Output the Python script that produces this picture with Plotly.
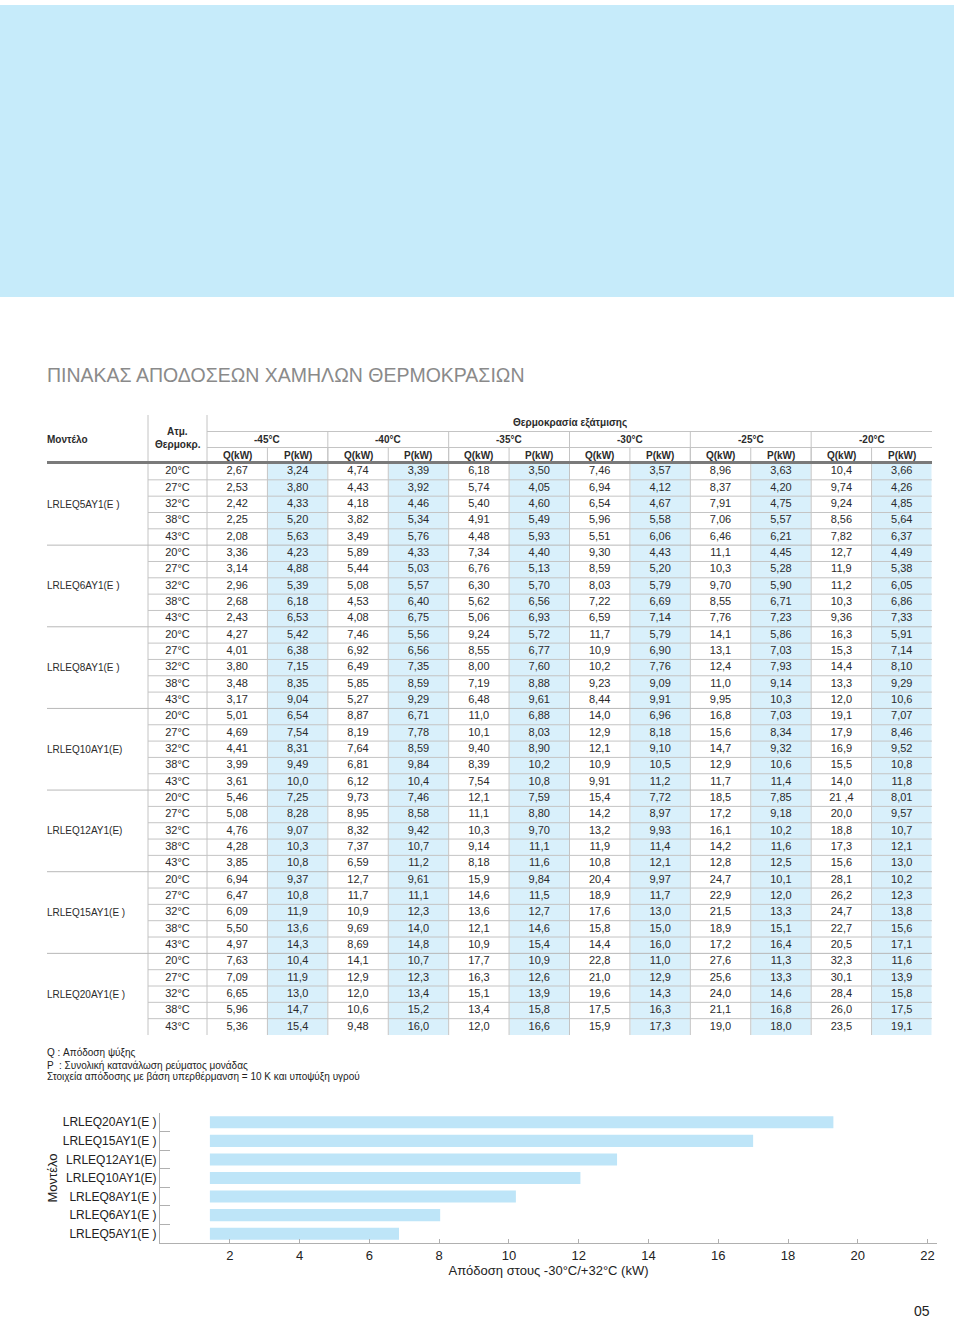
import plotly.graph_objects as go

# ---------------- data ----------------
models = ["LRLEQ5AY1(E )", "LRLEQ6AY1(E )", "LRLEQ8AY1(E )", "LRLEQ10AY1(E)",
          "LRLEQ12AY1(E)", "LRLEQ15AY1(E )", "LRLEQ20AY1(E )"]
ambient = ["20°C", "27°C", "32°C", "38°C", "43°C"]
evap_temps = ["-45°C", "-40°C", "-35°C", "-30°C", "-25°C", "-20°C"]
sub_headers = ["Q(kW)", "P(kW)"]

lrleq5 = [
    ["2,67", "3,24", "4,74", "3,39", "6,18", "3,50", "7,46", "3,57", "8,96", "3,63", "10,4", "3,66"],
    ["2,53", "3,80", "4,43", "3,92", "5,74", "4,05", "6,94", "4,12", "8,37", "4,20", "9,74", "4,26"],
    ["2,42", "4,33", "4,18", "4,46", "5,40", "4,60", "6,54", "4,67", "7,91", "4,75", "9,24", "4,85"],
    ["2,25", "5,20", "3,82", "5,34", "4,91", "5,49", "5,96", "5,58", "7,06", "5,57", "8,56", "5,64"],
    ["2,08", "5,63", "3,49", "5,76", "4,48", "5,93", "5,51", "6,06", "6,46", "6,21", "7,82", "6,37"],
]
lrleq6 = [
    ["3,36", "4,23", "5,89", "4,33", "7,34", "4,40", "9,30", "4,43", "11,1", "4,45", "12,7", "4,49"],
    ["3,14", "4,88", "5,44", "5,03", "6,76", "5,13", "8,59", "5,20", "10,3", "5,28", "11,9", "5,38"],
    ["2,96", "5,39", "5,08", "5,57", "6,30", "5,70", "8,03", "5,79", "9,70", "5,90", "11,2", "6,05"],
    ["2,68", "6,18", "4,53", "6,40", "5,62", "6,56", "7,22", "6,69", "8,55", "6,71", "10,3", "6,86"],
    ["2,43", "6,53", "4,08", "6,75", "5,06", "6,93", "6,59", "7,14", "7,76", "7,23", "9,36", "7,33"],
]
lrleq8 = [
    ["4,27", "5,42", "7,46", "5,56", "9,24", "5,72", "11,7", "5,79", "14,1", "5,86", "16,3", "5,91"],
    ["4,01", "6,38", "6,92", "6,56", "8,55", "6,77", "10,9", "6,90", "13,1", "7,03", "15,3", "7,14"],
    ["3,80", "7,15", "6,49", "7,35", "8,00", "7,60", "10,2", "7,76", "12,4", "7,93", "14,4", "8,10"],
    ["3,48", "8,35", "5,85", "8,59", "7,19", "8,88", "9,23", "9,09", "11,0", "9,14", "13,3", "9,29"],
    ["3,17", "9,04", "5,27", "9,29", "6,48", "9,61", "8,44", "9,91", "9,95", "10,3", "12,0", "10,6"],
]
lrleq10 = [
    ["5,01", "6,54", "8,87", "6,71", "11,0", "6,88", "14,0", "6,96", "16,8", "7,03", "19,1", "7,07"],
    ["4,69", "7,54", "8,19", "7,78", "10,1", "8,03", "12,9", "8,18", "15,6", "8,34", "17,9", "8,46"],
    ["4,41", "8,31", "7,64", "8,59", "9,40", "8,90", "12,1", "9,10", "14,7", "9,32", "16,9", "9,52"],
    ["3,99", "9,49", "6,81", "9,84", "8,39", "10,2", "10,9", "10,5", "12,9", "10,6", "15,5", "10,8"],
    ["3,61", "10,0", "6,12", "10,4", "7,54", "10,8", "9,91", "11,2", "11,7", "11,4", "14,0", "11,8"],
]
lrleq12 = [
    ["5,46", "7,25", "9,73", "7,46", "12,1", "7,59", "15,4", "7,72", "18,5", "7,85", "21 ,4", "8,01"],
    ["5,08", "8,28", "8,95", "8,58", "11,1", "8,80", "14,2", "8,97", "17,2", "9,18", "20,0", "9,57"],
    ["4,76", "9,07", "8,32", "9,42", "10,3", "9,70", "13,2", "9,93", "16,1", "10,2", "18,8", "10,7"],
    ["4,28", "10,3", "7,37", "10,7", "9,14", "11,1", "11,9", "11,4", "14,2", "11,6", "17,3", "12,1"],
    ["3,85", "10,8", "6,59", "11,2", "8,18", "11,6", "10,8", "12,1", "12,8", "12,5", "15,6", "13,0"],
]
lrleq15 = [
    ["6,94", "9,37", "12,7", "9,61", "15,9", "9,84", "20,4", "9,97", "24,7", "10,1", "28,1", "10,2"],
    ["6,47", "10,8", "11,7", "11,1", "14,6", "11,5", "18,9", "11,7", "22,9", "12,0", "26,2", "12,3"],
    ["6,09", "11,9", "10,9", "12,3", "13,6", "12,7", "17,6", "13,0", "21,5", "13,3", "24,7", "13,8"],
    ["5,50", "13,6", "9,69", "14,0", "12,1", "14,6", "15,8", "15,0", "18,9", "15,1", "22,7", "15,6"],
    ["4,97", "14,3", "8,69", "14,8", "10,9", "15,4", "14,4", "16,0", "17,2", "16,4", "20,5", "17,1"],
]
lrleq20 = [
    ["7,63", "10,4", "14,1", "10,7", "17,7", "10,9", "22,8", "11,0", "27,6", "11,3", "32,3", "11,6"],
    ["7,09", "11,9", "12,9", "12,3", "16,3", "12,6", "21,0", "12,9", "25,6", "13,3", "30,1", "13,9"],
    ["6,65", "13,0", "12,0", "13,4", "15,1", "13,9", "19,6", "14,3", "24,0", "14,6", "28,4", "15,8"],
    ["5,96", "14,7", "10,6", "15,2", "13,4", "15,8", "17,5", "16,3", "21,1", "16,8", "26,0", "17,5"],
    ["5,36", "15,4", "9,48", "16,0", "12,0", "16,6", "15,9", "17,3", "19,0", "18,0", "23,5", "19,1"],
]
table_rows = [lrleq5, lrleq6, lrleq8, lrleq10, lrleq12, lrleq15, lrleq20]

# bar chart: capacity at -30°C / +32°C
bar_models = models
bar_values = [6.85, 8.03, 10.2, 12.05, 13.1, 17.0, 19.3]
bar_base = 1.43
x_ticks = [2, 4, 6, 8, 10, 12, 14, 16, 18, 20, 22]

title_text = "ΠΙΝΑΚΑΣ ΑΠΟΔΟΣΕΩΝ ΧΑΜΗΛΩΝ ΘΕΡΜΟΚΡΑΣΙΩΝ"
notes = ["Q : Απόδοση ψύξης",
         "P  : Συνολική κατανάλωση ρεύματος μονάδας",
         "Στοιχεία απόδοσης με βάση υπερθέρμανση = 10 K και υποψύξη υγρού"]

# ---------------- styling / geometry ----------------
W, H = 960, 1320
SANS = "Liberation Sans, Arial, sans-serif"
NARROW = "Liberation Sans Narrow, Arial Narrow, Liberation Sans, Arial, sans-serif"
TXT = "#2b2b2b"
LINE = "#c4c4c4"
BLUE_CELL = "#d9f0fb"
BANNER = "#c6ebfa"
BAR = "#bee5f8"

X0, XM, XT, XR = 47, 148, 207, 932
NC = 12
CW = (XR - XT) / NC
HY_TOP, HY1, HY2, HY3 = 415, 431.5, 447.5, 462.5
DY0, DY1 = 463.5, 1035
NR = len(models) * len(ambient)
RH = (DY1 - DY0) / NR

shapes = []
annotations = []


def ln(x0, y0, x1, y1, color=LINE, w=1):
    shapes.append(dict(type="line", xref="x2", yref="y2", x0=x0, y0=y0, x1=x1, y1=y1,
                       line=dict(color=color, width=w), layer="above"))


def txt(x, y, s, size=10, anchor="center", bold=False, color=TXT, family=SANS):
    annotations.append(dict(xref="x2", yref="y2", x=x, y=y, text=s, showarrow=False,
                            xanchor=anchor, yanchor="middle",
                            font=dict(family=family, size=size, color=color,
                                      weight="bold" if bold else "normal")))


# banner
shapes.append(dict(type="rect", xref="x2", yref="y2", x0=0, y0=5, x1=954, y1=297,
                   fillcolor=BANNER, line=dict(width=0), layer="below"))

# blue P columns
for c in range(1, NC, 2):
    shapes.append(dict(type="rect", xref="x2", yref="y2",
                       x0=XT + c * CW + 0.5, x1=XT + (c + 1) * CW - 0.5,
                       y0=DY0, y1=DY1, fillcolor=BLUE_CELL, line=dict(width=0), layer="below"))

# header lines
ln(XM, HY_TOP, XM, DY1)
ln(XT, HY_TOP, XT, DY1)
ln(XT, HY1, XR, HY1)
ln(XT, HY2, XR, HY2)
for g in range(1, len(evap_temps)):
    ln(XT + 2 * g * CW, HY1, XT + 2 * g * CW, HY3)
for c in range(1, NC):
    ln(XT + c * CW, HY2, XT + c * CW, DY1)

# row lines
for i in range(1, NR):
    y = DY0 + i * RH
    if i % len(ambient) == 0:
        ln(X0, y, XR, y, color="#b8b8b8")
    else:
        ln(XM, y, XR, y)

# thick header rule
ln(X0, HY3, XR, HY3, color="#7a7a7a", w=3)

TX0 = X0 - 2  # left-anchored text start (annotation padding compensation)

# header texts
txt(TX0, 439, "Μοντέλο", bold=True, anchor="left")
txt((XM + XT) / 2, 431, "Ατμ.", bold=True)
txt((XM + XT) / 2, 444, "Θερμοκρ.", bold=True)
txt((XT + XR) / 2, 423, "Θερμοκρασία εξάτμισης", bold=True)
for g, t in enumerate(evap_temps):
    txt(XT + (2 * g + 1) * CW, 439.5, t, bold=True)
    for k, s in enumerate(sub_headers):
        txt(XT + (2 * g + k + 0.5) * CW, 455, s, bold=True)

# model names
for m, name in enumerate(models):
    yc = DY0 + (m * len(ambient) + len(ambient) / 2) * RH
    txt(TX0, yc, name, size=10, anchor="left")

# data text as scatter text traces
xs, ys, ts = [], [], []
tx, ty, tt = [], [], []
for m, rows in enumerate(table_rows):
    for r, row in enumerate(rows):
        i = m * len(ambient) + r
        yc = DY0 + (i + 0.5) * RH
        tx.append((XM + XT) / 2)
        ty.append(yc)
        tt.append(ambient[r])
        for c, v in enumerate(row):
            xs.append(XT + (c + 0.5) * CW)
            ys.append(yc)
            ts.append(v)

fig = go.Figure()
fig.add_trace(go.Scatter(x=xs, y=ys, text=ts, mode="text", xaxis="x2", yaxis="y2",
                         textfont=dict(family=NARROW, size=11, color=TXT),
                         hoverinfo="skip", showlegend=False))
fig.add_trace(go.Scatter(x=tx, y=ty, text=tt, mode="text", xaxis="x2", yaxis="y2",
                         textfont=dict(family=NARROW, size=11, color=TXT),
                         hoverinfo="skip", showlegend=False))

# bar chart
fig.add_trace(go.Bar(y=bar_models, x=[v - bar_base for v in bar_values], base=bar_base,
                     orientation="h", width=0.65, xaxis="x", yaxis="y",
                     marker=dict(color=BAR, line=dict(width=0)),
                     hoverinfo="skip", showlegend=False))

# title, notes, page number
txt(TX0, 375, title_text, size=19.5, anchor="left", color="#8a8a8a", family=NARROW)
for k, n in enumerate(notes):
    txt(TX0, 1053 + 12 * k, n, size=10, anchor="left", color="#222")
txt(922, 1311, "05", size=14, color="#222")

fig.update_layout(
    width=W, height=H, margin=dict(l=0, r=0, t=0, b=0),
    paper_bgcolor="white", plot_bgcolor="rgba(0,0,0,0)",
    showlegend=False, shapes=shapes, annotations=annotations,
    xaxis=dict(domain=[160 / W, 937 / W], range=[0, 22.27], anchor="y",
               tickvals=x_ticks, ticks="inside", ticklen=4, tickcolor="#b0b0b0",
               showline=True, linecolor="#b0b0b0", linewidth=1,
               showgrid=False, zeroline=False,
               tickfont=dict(family=SANS, size=13, color="#222"),
               title=dict(text="Απόδοση στους -30°C/+32°C (kW)", standoff=2,
                          font=dict(family=SANS, size=13, color="#222"))),
    yaxis=dict(domain=[(H - 1243) / H, (H - 1113) / H], anchor="x", type="category",
               categoryorder="array", categoryarray=bar_models,
               ticks="inside", tickson="boundaries", ticklen=10, tickcolor="#b0b0b0",
               showline=True, linecolor="#b0b0b0", linewidth=1,
               showgrid=False, zeroline=False,
               tickfont=dict(family=SANS, size=12, color="#222"),
               title=dict(text="Μοντέλο", standoff=2,
                          font=dict(family=SANS, size=13, color="#222"))),
    xaxis2=dict(domain=[0, 1], range=[0, W], anchor="y2", visible=False, fixedrange=True),
    yaxis2=dict(domain=[0, 1], range=[H, 0], anchor="x2", visible=False, fixedrange=True),
)

fig.write_html("out.html", config={"displayModeBar": False},
               post_script="document.body.style.margin='0';document.body.style.overflow='hidden';")
